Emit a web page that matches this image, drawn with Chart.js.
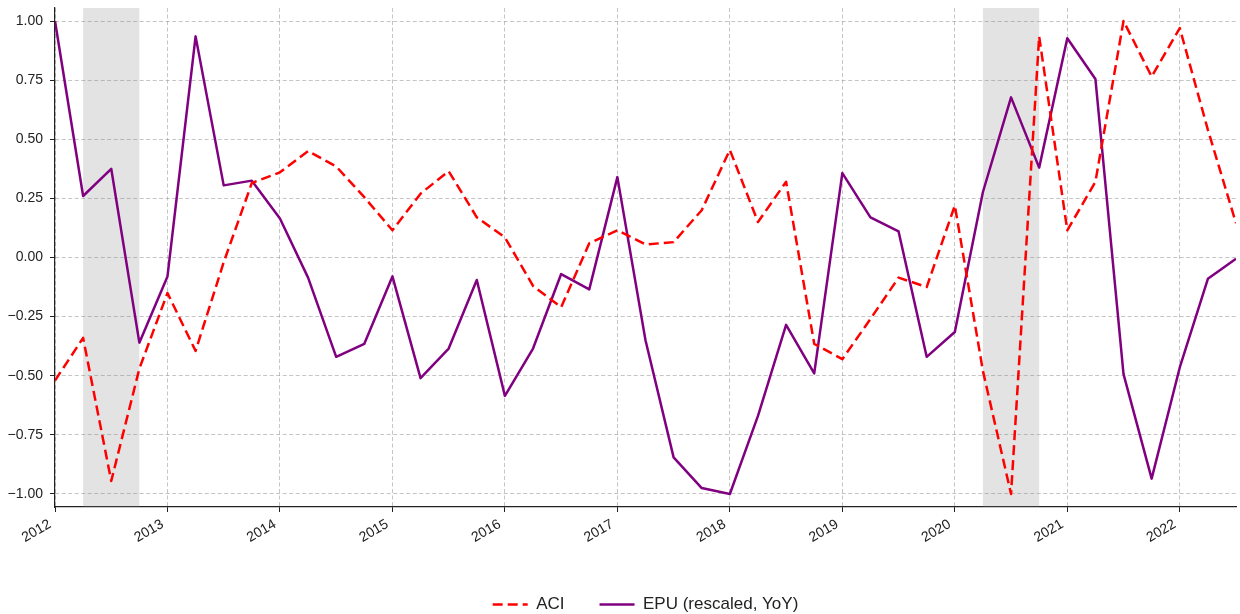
<!DOCTYPE html>
<html>
<head>
<meta charset="utf-8">
<script src="https://cdn.jsdelivr.net/npm/chart.js@4/dist/chart.umd.min.js"></script>
<style>
  html, body { margin: 0; padding: 0; background: #fff; }
  canvas { display: block; }
</style>
</head>
<body>
<canvas id="myChart" width="1240" height="614"></canvas>
<script>
// quarterly observations, 2012Q1 .. 2022Q3
const quarters = [
  '2012Q1','2012Q2','2012Q3','2012Q4','2013Q1','2013Q2','2013Q3','2013Q4',
  '2014Q1','2014Q2','2014Q3','2014Q4','2015Q1','2015Q2','2015Q3','2015Q4',
  '2016Q1','2016Q2','2016Q3','2016Q4','2017Q1','2017Q2','2017Q3','2017Q4',
  '2018Q1','2018Q2','2018Q3','2018Q4','2019Q1','2019Q2','2019Q3','2019Q4',
  '2020Q1','2020Q2','2020Q3','2020Q4','2021Q1','2021Q2','2021Q3','2021Q4',
  '2022Q1','2022Q2','2022Q3'
];
const aci = [
  -0.52, -0.34, -0.945, -0.47, -0.15, -0.395, -0.02, 0.315,
  0.36, 0.45, 0.385, 0.255, 0.115, 0.27, 0.365, 0.17,
  0.085, -0.12, -0.21, 0.06, 0.115, 0.055, 0.065, 0.20,
  0.455, 0.15, 0.32, -0.365, -0.43, -0.26, -0.085, -0.125,
  0.22, -0.48, -1.0, 0.935, 0.115, 0.32, 1.0, 0.765,
  0.97, 0.54, 0.145
];
const epu = [
  1.0, 0.26, 0.375, -0.36, -0.08, 0.935, 0.305, 0.325,
  0.165, -0.085, -0.42, -0.365, -0.08, -0.51, -0.385, -0.095,
  -0.585, -0.385, -0.07, -0.135, 0.34, -0.35, -0.845, -0.975,
  -1.0, -0.67, -0.285, -0.49, 0.357, 0.17, 0.11, -0.42,
  -0.315, 0.277, 0.677, 0.38, 0.927, 0.755, -0.493, -0.935,
  -0.465, -0.09, -0.005
];
const recessions = [[2012.25, 2012.75], [2020.25, 2020.75]];
const yearTicks = [2012, 2013, 2014, 2015, 2016, 2017, 2018, 2019, 2020, 2021, 2022];
const yTicks = [-1.0, -0.75, -0.5, -0.25, 0, 0.25, 0.5, 0.75, 1.0];

function toYear(q) {
  return parseInt(q.slice(0, 4)) + (parseInt(q.slice(5)) - 1) / 4;
}
function points(vals) {
  return quarters.map((q, i) => ({ x: toYear(q), y: vals[i] }));
}

const FONT = "'Liberation Sans', Arial, sans-serif";
const gridColor = 'rgba(150,150,150,0.55)';

// grey bands behind the lines
const shading = {
  id: 'shading',
  beforeDatasetsDraw(chart) {
    const { ctx, chartArea, scales } = chart;
    ctx.save();
    ctx.fillStyle = 'rgba(128,128,128,0.22)';
    recessions.forEach(r => {
      const x1 = scales.x.getPixelForValue(r[0]);
      const x2 = scales.x.getPixelForValue(r[1]);
      ctx.fillRect(x1, chartArea.top, x2 - x1, chartArea.bottom - chartArea.top);
    });
    ctx.restore();
  }
};

// legend is centred on the axes, not on the figure
const legendShift = {
  id: 'legendShift',
  afterLayout(chart) {
    const a = chart.chartArea;
    const dx = (a.left + a.right) / 2 - (chart.legend.left + chart.legend.right) / 2;
    chart.legend.left += dx;
    chart.legend.right += dx;
  }
};

new Chart(document.getElementById('myChart').getContext('2d'), {
  type: 'line',
  data: {
    datasets: [{
      label: 'ACI',
      data: points(aci),
      borderColor: '#ff0000',
      backgroundColor: '#ff0000',
      borderWidth: 2.5,
      borderDash: [10, 5],
      borderJoinStyle: 'round',
      pointRadius: 0,
      tension: 0
    }, {
      label: 'EPU (rescaled, YoY)',
      data: points(epu),
      borderColor: '#800080',
      backgroundColor: '#800080',
      borderWidth: 2.5,
      borderJoinStyle: 'round',
      pointRadius: 0,
      tension: 0
    }]
  },
  options: {
    responsive: false,
    animation: false,
    devicePixelRatio: 1,
    layout: { padding: { top: 8, right: 4, left: 0, bottom: -9 } },
    plugins: {
      tooltip: { enabled: false },
      legend: {
        position: 'bottom',
        labels: {
          usePointStyle: true,
          pointStyle: 'line',
          pointStyleWidth: 35,
          padding: 35,
          color: '#222',
          font: { family: FONT, size: 17 },
          generateLabels: chart => {
            const items = Chart.defaults.plugins.legend.labels.generateLabels(chart);
            items.forEach(it => {
              const ds = chart.data.datasets[it.datasetIndex];
              it.lineDash = ds.borderDash || [];
              it.lineWidth = ds.borderWidth;
              it.strokeStyle = ds.borderColor;
            });
            return items;
          }
        }
      }
    },
    scales: {
      x: {
        type: 'linear',
        min: 2012,
        max: 2022.5,
        afterBuildTicks: s => { s.ticks = yearTicks.map(v => ({ value: v })); },
        afterFit: s => { s.height = 54; },
        grid: { color: gridColor, lineWidth: 1, tickLength: 5, tickColor: '#222', tickBorderDash: [] },
        border: { display: true, color: '#222', width: 1.2, dash: [4, 2.5] },
        ticks: {
          autoSkip: false,
          minRotation: 30,
          maxRotation: 30,
          padding: 4,
          labelOffset: -5,
          color: '#222',
          font: { family: FONT, size: 14 },
          callback: v => String(v)
        }
      },
      y: {
        min: -1.055,
        max: 1.055,
        afterBuildTicks: s => { s.ticks = yTicks.map(v => ({ value: v })); },
        afterFit: s => { s.width = 55; s.paddingTop = 0; s.paddingBottom = 0; },
        grid: { color: gridColor, lineWidth: 1, tickLength: 5, tickColor: '#222', tickBorderDash: [] },
        border: { display: true, color: '#222', width: 1.2, dash: [4, 2.5] },
        ticks: {
          padding: 7,
          color: '#222',
          font: { family: FONT, size: 14 },
          callback: v => (v < 0 ? '\u2212' : '') + Math.abs(v).toFixed(2)
        }
      }
    }
  },
  plugins: [shading, legendShift]
});
</script>
</body>
</html>
